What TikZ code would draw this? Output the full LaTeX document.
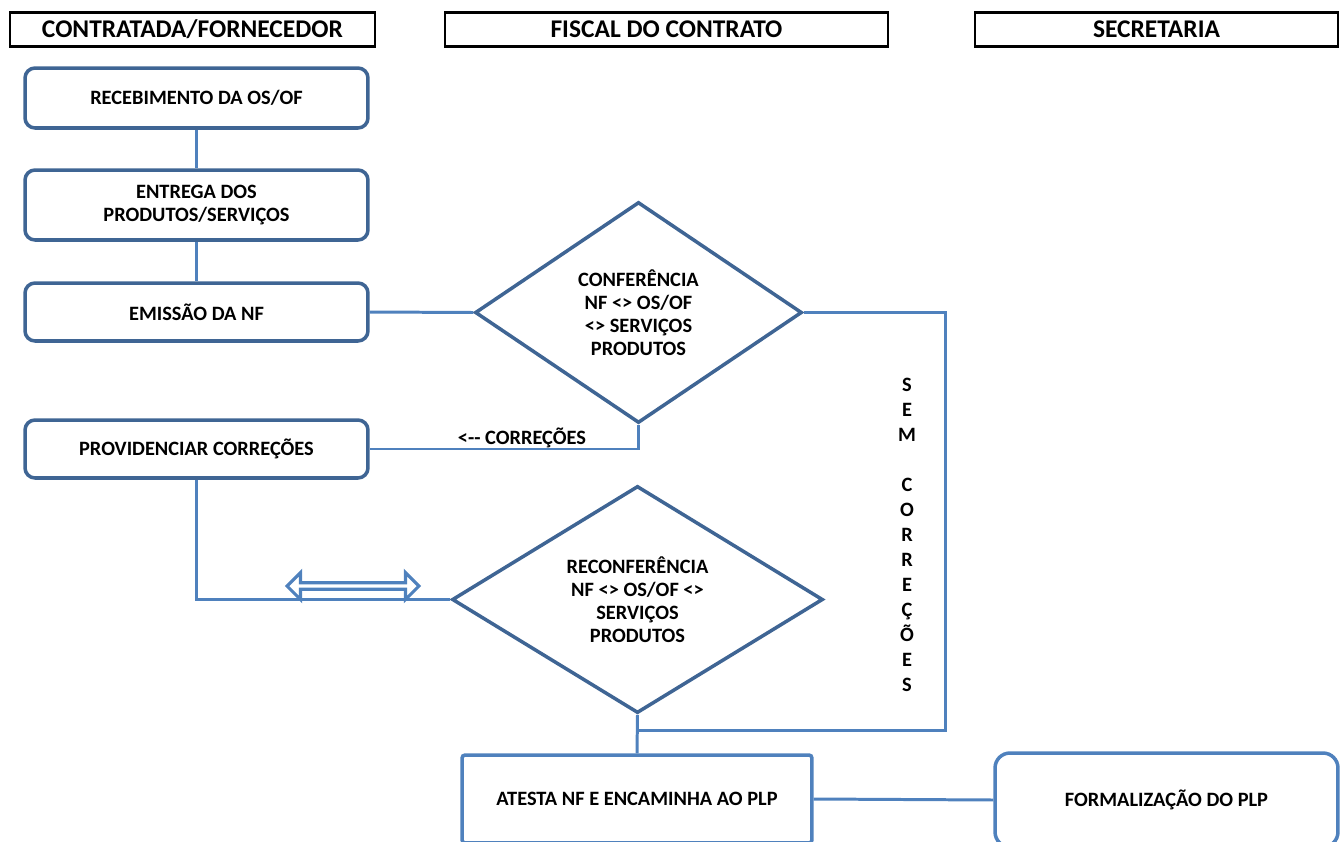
\documentclass[tikz,border=0pt]{standalone}
\usepackage{fontspec}
\setmainfont{Carlito}
\usetikzlibrary{shapes.geometric,shapes.arrows}

\definecolor{boxblue}{HTML}{3F6594}
\definecolor{lineblue}{HTML}{4F81BD}

\tikzset{
  header/.style={draw=black, line width=1.4pt, minimum height=0.68cm, inner sep=0pt,
    font=\fontsize{14.5}{16}\selectfont\bfseries},
  stepbox/.style={draw=boxblue, line width=2pt, rounded corners=0.2cm, minimum width=6.86cm,
    inner sep=0pt, align=center, font=\fontsize{11.6}{13.6}\selectfont\bfseries},
  decision/.style={diamond, draw=boxblue, line width=2pt, inner sep=0pt, align=center,
    font=\fontsize{11.6}{13}\selectfont\bfseries},
  endbox/.style={draw=lineblue, line width=2pt, inner sep=0pt, align=center,
    font=\fontsize{11.6}{13.6}\selectfont\bfseries},
  link/.style={draw=lineblue, line width=1.7pt},
  label/.style={inner sep=0pt, align=center, font=\fontsize{11.6}{14.2}\selectfont\bfseries},
}

\begin{document}
\begin{tikzpicture}[x=0.02cm, y=-0.02cm]
\clip (0,0) rectangle (1340,842);

% Swimlane headers
\node[header, minimum width=7.3cm] (hcontr) at (192.5,29.5) {CONTRATADA/FORNECEDOR};
\node[header, minimum width=8.86cm] (hfiscal) at (666.5,29.5) {FISCAL DO CONTRATO};
\node[header, minimum width=7.26cm] (hsecr) at (1156.5,29.5) {SECRETARIA};

% Contratada steps
\node[stepbox, minimum height=1.2cm] (receb) at (196.5,98) {RECEBIMENTO DA OS/OF};
\node[stepbox, minimum height=1.4cm] (entrega) at (196.5,205) {ENTREGA DOS\\PRODUTOS/SERVIÇOS};
\node[stepbox, minimum height=1.16cm] (emissao) at (196.5,312) {EMISSÃO DA NF};
\node[stepbox, minimum height=1.16cm] (provid) at (196.5,449) {PROVIDENCIAR CORREÇÕES};

% Fiscal decisions
\node[decision, minimum width=6.54cm, minimum height=4.42cm] (confer) at (638.5,312.5)
  {CONFERÊNCIA\\NF <> OS/OF\\<> SERVIÇOS\\PRODUTOS};
\node[decision, minimum width=7.42cm, minimum height=4.46cm] (reconf) at (637.5,599.5)
  {RECONFERÊNCIA\\NF <> OS/OF <>\\SERVIÇOS\\PRODUTOS};

% Final steps
\node[endbox, rounded corners=0.06cm, minimum width=7cm, minimum height=1.76cm] (atesta) at (637,799)
  {ATESTA NF E ENCAMINHA AO PLP};
\node[endbox, rounded corners=0.3cm, minimum width=6.86cm, minimum height=1.88cm] (formal) at (1166.5,800)
  {FORMALIZAÇÃO DO PLP};

\coordinate (corner) at (945,730);
\coordinate (merge) at (637.5,730);

% Connectors
\draw[link] (receb.south) -- (entrega.north);
\draw[link] (entrega.south) -- (emissao.north);
\draw[link] (emissao.east) -- (confer.west);
\draw[link] (confer.south) |- (provid.east);
\draw[link] (provid.south) |- (reconf.west);
\draw[link] (confer.east) -| (corner) -- (merge);
\draw[link] (reconf.south) -- (atesta.north);
\draw[link] (atesta.east) -- (formal.west);

% Double arrow on return path
\node[double arrow, draw=lineblue, fill=white, line width=1.8pt, inner sep=0pt,
  minimum height=2.64cm, minimum width=0.54cm, double arrow head extend=0.1cm] (retorno) at (353,586) {};

% Labels
\node[label] (lcorr) at (522,438) {<-{}- CORREÇÕES};
\node[label] (lsem) at (907,535) {S\\E\\M\\ \\C\\O\\R\\R\\E\\Ç\\Õ\\E\\S};
\end{tikzpicture}
\end{document}
